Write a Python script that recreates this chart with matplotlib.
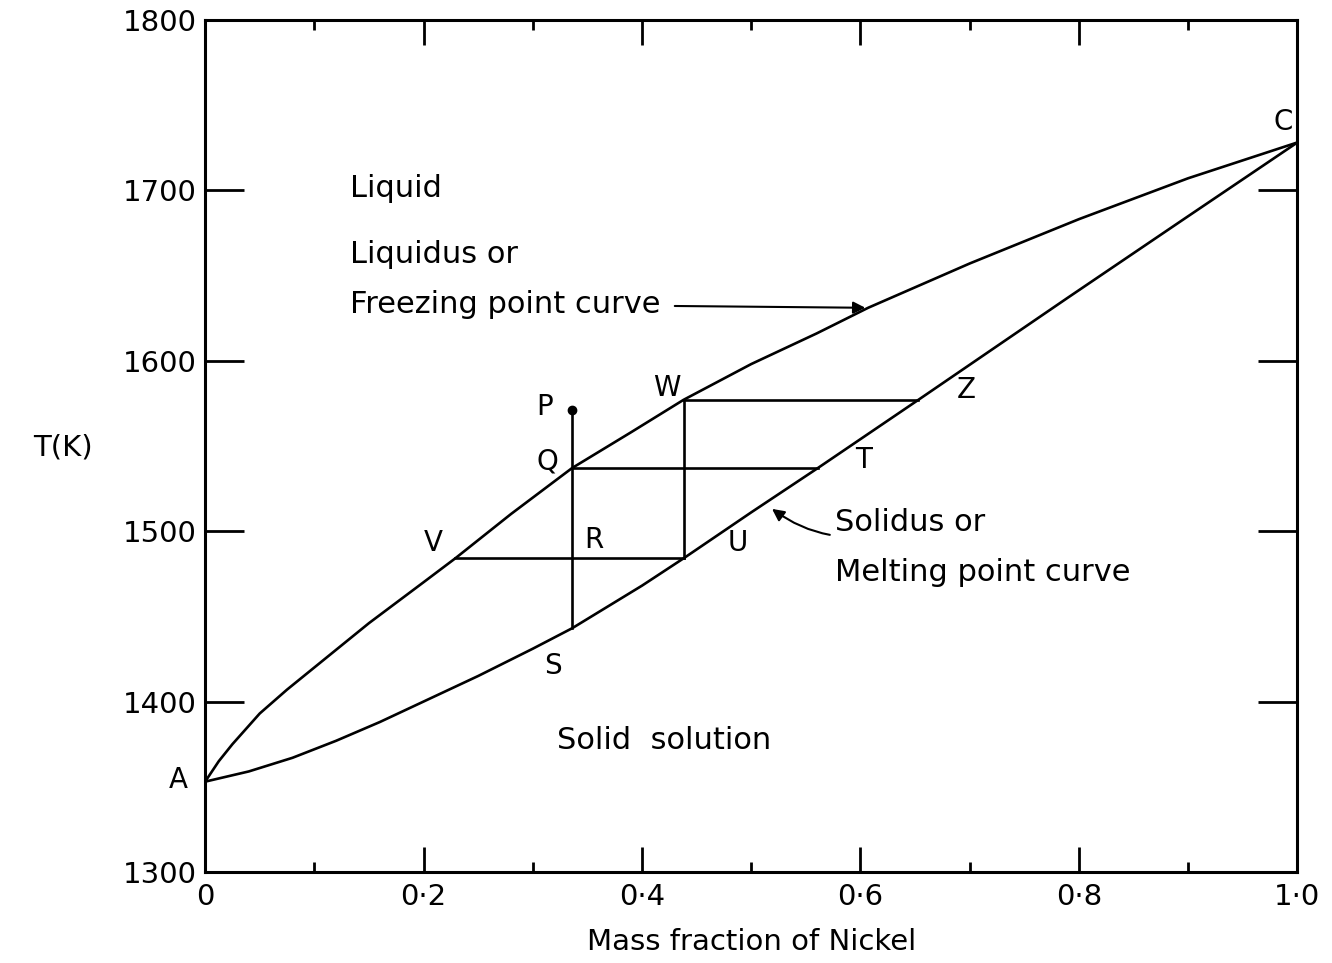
import matplotlib
matplotlib.use("Agg")
import matplotlib.pyplot as plt

# values (mass fraction Ni, temperature in K)
liq_x = [0.0, 0.0125, 0.025, 0.0375, 0.05, 0.075, 0.1, 0.15, 0.2, 0.229, 0.28, 0.336,
         0.39, 0.438, 0.5, 0.56, 0.607, 0.7, 0.8, 0.9, 1.0]
liq_T = [1353, 1365, 1375, 1384, 1393, 1407, 1420, 1446, 1470, 1484, 1510, 1537,
         1558, 1577, 1598, 1616, 1631, 1657, 1683, 1707, 1728]
sol_x = [0.0, 0.04, 0.08, 0.12, 0.16, 0.2, 0.25, 0.3, 0.336, 0.4, 0.438, 0.5,
         0.561, 0.653, 0.79, 0.896, 1.0]
sol_T = [1353, 1359, 1367, 1377, 1388, 1400, 1415, 1431, 1443, 1468, 1484, 1511,
         1537, 1577, 1637, 1683, 1728]

# tie lines and vertical cooling path
ties = [(0.438, 0.653, 1577),   # W - Z
        (0.336, 0.561, 1537),   # Q - T
        (0.229, 0.438, 1484)]   # V - U
verts = [(0.336, 1571, 1443),   # P - S
         (0.438, 1577, 1484)]   # W - U

pt_labels = ["P", "W", "Q", "V", "R", "U", "S", "T", "Z", "A", "C"]
pt_x = [0.311, 0.423, 0.313, 0.209, 0.356, 0.488, 0.318, 0.603, 0.697, -0.025, 0.987]
pt_T = [1573, 1584, 1541, 1493, 1495, 1493, 1421, 1542, 1583, 1354, 1740]

xticks = [0, 0.2, 0.4, 0.6, 0.8, 1.0]
xticklabels = ["0", "0·2", "0·4", "0·6", "0·8", "1·0"]
yticks = [1300, 1400, 1500, 1600, 1700, 1800]

fig = plt.figure(figsize=(13.32, 9.63), dpi=100)
ax = fig.add_axes([0.154, 0.0945, 0.820, 0.885])

lw = 1.9
ax.plot(liq_x, liq_T, color="black", lw=lw)
ax.plot(sol_x, sol_T, color="black", lw=lw)
for x0, x1, t in ties:
    ax.plot([x0, x1], [t, t], color="black", lw=lw)
for x, t0, t1 in verts:
    ax.plot([x, x], [t0, t1], color="black", lw=lw)
ax.plot(0.336, 1571, "o", color="black", ms=6)

for s, x, t in zip(pt_labels, pt_x, pt_T):
    ax.text(x, t, s, fontsize=20, ha="center", va="center", clip_on=False)

fs = 22
ax.text(0.133, 1701, "Liquid", fontsize=fs, va="center")
ax.text(0.133, 1662, "Liquidus or", fontsize=fs, va="center")
ax.annotate("Freezing point curve", xy=(0.607, 1631), xytext=(0.133, 1633),
            fontsize=fs, va="center",
            arrowprops=dict(arrowstyle="-|>", color="black", lw=1.5, mutation_scale=18,
                            shrinkA=8))
ax.annotate("Solidus or", xy=(0.517, 1514), xytext=(0.577, 1505),
            fontsize=fs, va="center",
            arrowprops=dict(arrowstyle="-|>", color="black", lw=1.5, mutation_scale=18,
                            connectionstyle="arc3,rad=-0.3", shrinkA=2))
ax.text(0.577, 1476, "Melting point curve", fontsize=fs, va="center")
ax.text(0.322, 1377, "Solid  solution", fontsize=fs, va="center")

ax.set_xlim(0, 1.0)
ax.set_ylim(1300, 1800)
ax.set_xticks(xticks)
ax.set_xticklabels(xticklabels)
ax.set_xticks([0.1, 0.3, 0.5, 0.7, 0.9], minor=True)
ax.set_yticks(yticks)
ax.tick_params(axis="x", which="major", direction="in", length=18, width=2,
               top=True, labelsize=21, pad=8)
ax.tick_params(axis="x", which="minor", direction="in", length=7, width=2, top=True)
ax.tick_params(axis="y", which="major", direction="in", length=28, width=2,
               right=True, labelsize=21, pad=6)
for sp in ax.spines.values():
    sp.set_linewidth(2.2)

ax.set_xlabel("Mass fraction of Nickel", fontsize=21, labelpad=12)
ax.text(-0.13, 1549, "T(K)", fontsize=21, ha="center", va="center", clip_on=False)

fig.savefig("out.png", dpi=100)
